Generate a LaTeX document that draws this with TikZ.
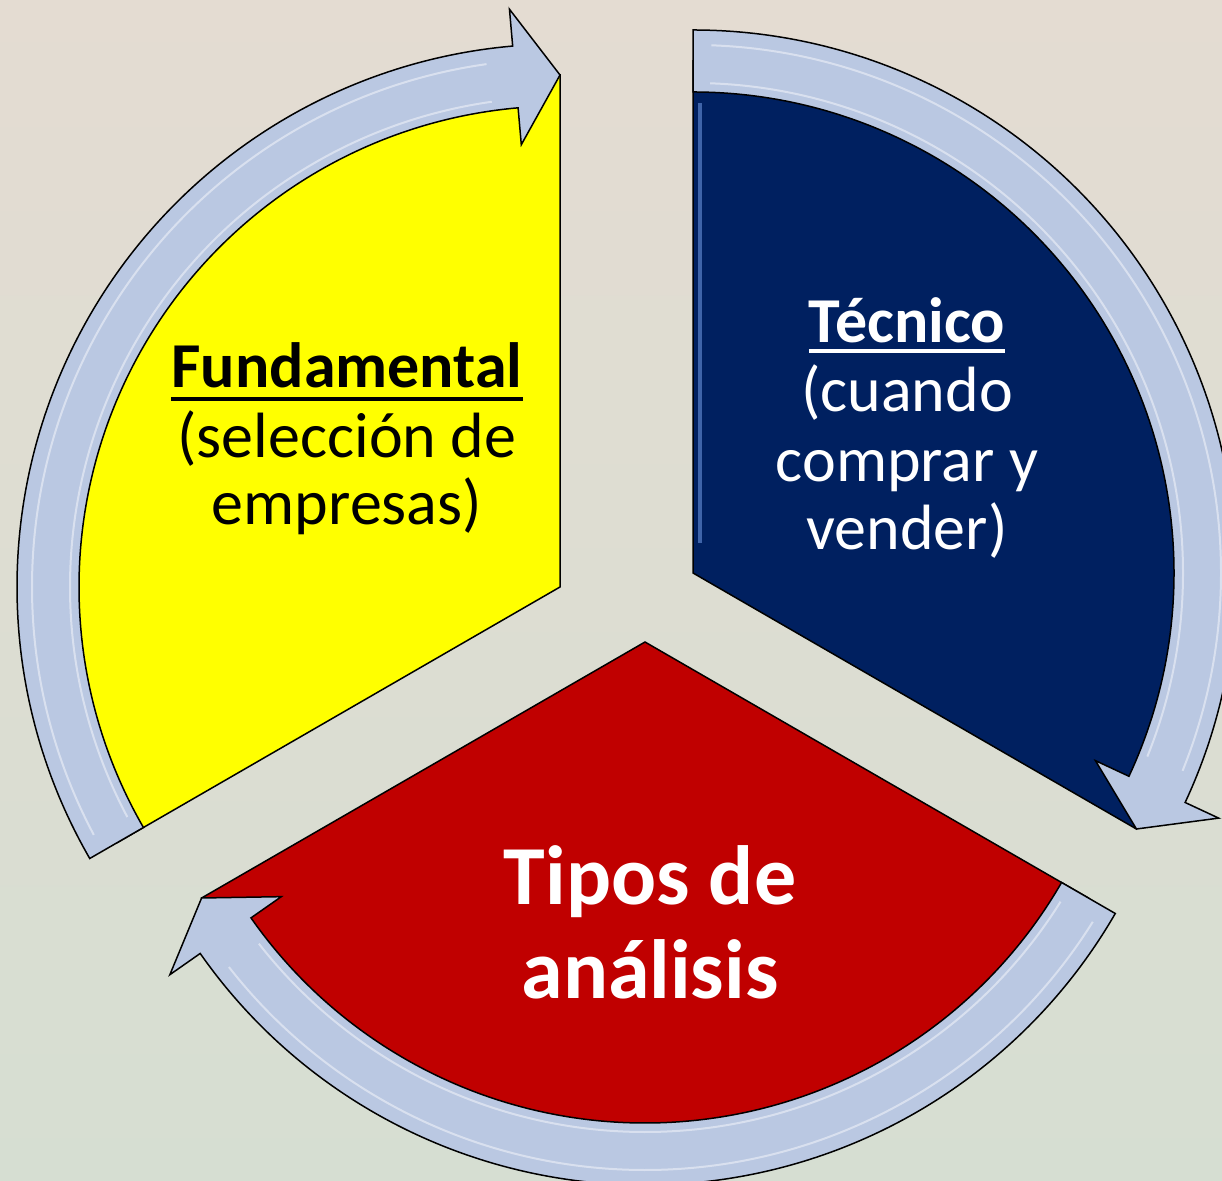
\documentclass[tikz,border=0pt]{standalone}
\usepackage{fontspec}
\setmainfont{Carlito}
\usepackage{tikz}
\definecolor{bgtop}{RGB}{228,220,210}
\definecolor{bgbot}{RGB}{214,222,210}
\definecolor{yell}{RGB}{255,255,0}
\definecolor{navy}{RGB}{0,32,96}
\definecolor{darkred}{RGB}{192,0,0}
\definecolor{bandblue}{RGB}{186,200,226}
\definecolor{edgeblue}{RGB}{90,130,200}

\begin{document}
\begin{tikzpicture}[
      x=1pt, y=1pt,
      every node/.style={inner sep=0pt},
      sector/.style={draw=black, line width=1.5pt},
      band/.style={draw=black, line width=1.5pt, fill=bandblue},
      gloss/.style={white, line width=2pt, opacity=.45},
      uline/.style={line width=3.5pt}]

        \clip (0,0) rectangle (1222,1180);
        \shade[top color=bgtop, bottom color=bgbot] (0,0) rectangle (1222,1180);

        \coordinate (Y) at (560,593);
        \coordinate (B) at (693,607);
        \coordinate (R) at (645,538);

        % sectors
        \foreach \c/\col/\a/\b in {Y/yell/90/210, B/navy/-30/90, R/darkred/210/330}
          \draw[sector, fill=\col, shift={(\c)}] (0,0) -- (\a:512)
            arc[start angle=\a, end angle=\b, radius=512] -- cycle;

        \draw[edgeblue, line width=4pt, opacity=.7] ([shift={(7,30)}]B) -- ([shift={(7,470)}]B);

        % arrows
        \foreach \c/\t/\h in {Y/210/90, B/90/-30, R/330/210}
          \draw[band, shift={(\c)}] (\t:543)
            arc[start angle=\t, end angle=\h+5, radius=543] -- (\h+5:580)
            -- (\h:512) -- (\h+5:444) -- (\h+5:481)
            arc[start angle=\h+5, end angle=\t, radius=481] -- cycle;

        \foreach \c/\t/\h in {Y/210/90, B/90/-30, R/330/210}
          {
          \draw[gloss, shift={(\c)}] (\t-2:528) arc[start angle=\t-2, end angle=\h+8, radius=528];
          \draw[gloss, shift={(\c)}] (\t-2:490) arc[start angle=\t-2, end angle=\h+8, radius=490];
          }

        {\fontsize{64}{70}\selectfont
        \node[anchor=base, font=\bfseries] (fund) at (347,792) {Fundamental};
        \node[anchor=base] (selec) at (347,722) {(selección de};
        \node[anchor=base] (empr) at (347,655) {empresas)};

        \node[anchor=base, font=\bfseries, text=white] (tecn) at (907,837) {Técnico};
        \node[anchor=base, text=white] (cuando) at (907,768) {(cuando};
        \node[anchor=base, text=white] (compr) at (907,698) {comprar y};
        \node[anchor=base, text=white] (vend) at (907,630) {vender)};
        }

        \draw[uline] ([yshift=-11]fund.base west) -- ([yshift=-11]fund.base east);
        \draw[uline, white] ([yshift=-8]tecn.base west) -- ([yshift=-8]tecn.base east);

        {\fontsize{84}{92}\selectfont
        \node[anchor=base, font=\bfseries, text=white] (tipos) at (650,275) {Tipos de};
        \node[anchor=base, font=\bfseries, text=white] (anal) at (650,182) {análisis};
        }

      \end{tikzpicture}
\end{document}
